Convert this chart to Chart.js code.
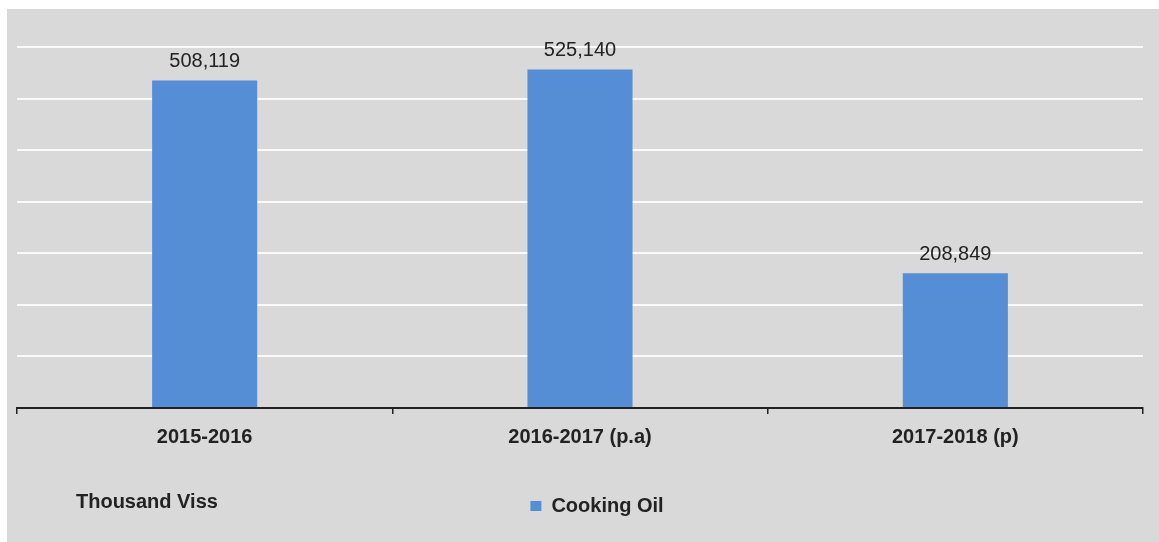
<!DOCTYPE html>
<html>
<head>
<meta charset="utf-8">
<script src="https://cdn.jsdelivr.net/npm/chart.js@4/dist/chart.umd.min.js"></script>
<style>
  body { margin:0; background:#fff; overflow:hidden; }
  #wrap { position:absolute; left:7px; top:9px; width:1152px; height:533px;
          background:#d9d9d9; overflow:hidden; }
  canvas { display:block; }
</style>
</head>
<body>
<div id="wrap"><canvas id="chart" width="1170" height="533"></canvas></div>
<script>
// data
const years = ["2015-2016", "2016-2017 (p.a)", "2017-2018 (p)"];
const cookingOil = [508119, 525140, 208849];
const seriesName = "Cooking Oil";
const unitText = "Thousand Viss";

const FONT = "'Liberation Sans', Arial, sans-serif";

// value labels on top of bars + unit text bottom-left
const barLabels = {
  id: "barLabels",
  afterDatasetsDraw(chart) {
    const ctx = chart.ctx;
    const meta = chart.getDatasetMeta(0);
    ctx.save();
    ctx.font = "20px " + FONT;
    ctx.fillStyle = "#222";
    ctx.textAlign = "center";
    ctx.textBaseline = "bottom";
    meta.data.forEach((el, i) => {
      ctx.fillText(cookingOil[i].toLocaleString("en-US"), el.x, el.y - 9);
    });
    ctx.font = "bold 20px " + FONT;
    ctx.textAlign = "left";
    ctx.textBaseline = "middle";
    ctx.fillText(unitText, 69, 493);
    ctx.restore();
  }
};

new Chart(document.getElementById("chart"), {
  type: "bar",
  data: {
    labels: years,
    datasets: [{
      label: seriesName,
      data: cookingOil,
      backgroundColor: "#558ed5",
      barPercentage: 0.28,
      categoryPercentage: 1
    }]
  },
  options: {
    responsive: false,
    animation: false,
    layout: { padding: { left: 10, right: 0, top: 38, bottom: 16 } },
    plugins: {
      tooltip: { enabled: false },
      legend: {
        position: "bottom",
        labels: {
          color: "#222",
          font: { family: FONT, size: 20, weight: "bold" },
          boxWidth: 11,
          boxHeight: 10,
          padding: 10
        }
      }
    },
    scales: {
      x: {
        grid: { drawOnChartArea: false, color: "#222", tickLength: 6, lineWidth: 1.5 },
        border: { color: "#222", width: 2 },
        ticks: {
          color: "#222",
          padding: 11,
          font: { family: FONT, size: 20, weight: "bold" }
        },
        afterFit: s => { s.height = 78; }
      },
      y: {
        position: "right",
        min: 0,
        max: 560000,
        ticks: { display: false, stepSize: 80000 },
        grid: { color: "#fafafa", lineWidth: 2, drawTicks: false },
        border: { display: false },
        afterFit: s => { s.width = 34; }
      }
    }
  },
  plugins: [barLabels]
});
</script>
</body>
</html>
